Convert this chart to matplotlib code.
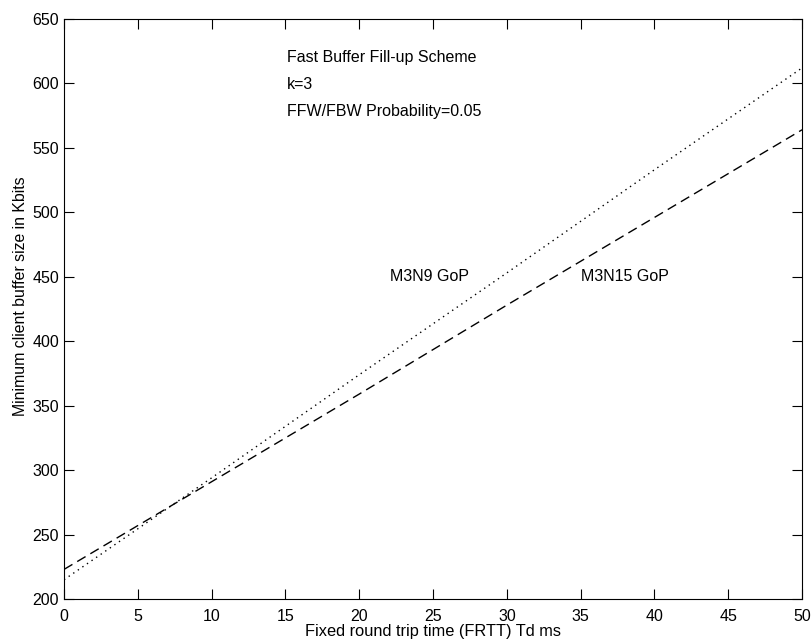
import matplotlib
matplotlib.use('Agg')
import matplotlib.pyplot as plt

plt.rcParams['font.family'] = ['Liberation Sans', 'DejaVu Sans']

# Datos
frtt = [0, 10, 20, 30, 40, 50]
m3n9 = [215, 294, 374, 453, 533, 612]
m3n15 = [223, 291, 359, 428, 496, 564]

fig = plt.figure(figsize=(8.11, 6.41), dpi=100)
ax = fig.add_axes([0.079, 0.0655, 0.910, 0.905])

ax.plot(frtt, m3n9, color='black', linestyle=(0, (1, 3)), linewidth=1.0)
ax.plot(frtt, m3n15, color='black', linestyle=(0, (7, 4)), linewidth=1.0)

ax.text(22.1, 450, 'M3N9 GoP', fontsize=11.5, va='center')
ax.text(35, 450, 'M3N15 GoP', fontsize=11.5, va='center')

ax.text(15.1, 620, 'Fast Buffer Fill-up Scheme', fontsize=11.5, va='center')
ax.text(15.1, 599, 'k=3', fontsize=11.5, va='center')
ax.text(15.1, 578, 'FFW/FBW Probability=0.05', fontsize=11.5, va='center')

ax.set_xlim(0, 50)
ax.set_ylim(200, 650)
ax.set_xticks(range(0, 51, 5))
ax.set_yticks(range(200, 651, 50))

ax.tick_params(direction='in', top=True, right=True, length=7, labelsize=11.5)
ax.tick_params(axis='x', pad=7)
ax.set_xlabel('Fixed round trip time (FRTT) Td ms', fontsize=11.8, labelpad=0)
ax.set_ylabel('Minimum client buffer size in Kbits', fontsize=11.4)
ax.yaxis.set_label_coords(-0.049, 0.522)

plt.savefig('out.png', dpi=100)
